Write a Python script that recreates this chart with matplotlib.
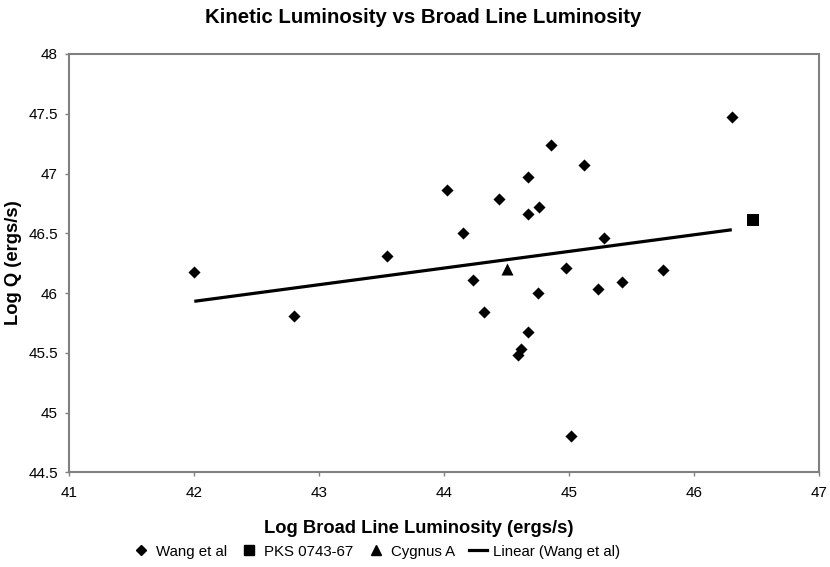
import numpy as np
import matplotlib
matplotlib.use("Agg")
import matplotlib.pyplot as plt
from matplotlib.lines import Line2D

plt.rcParams['font.family'] = ['Liberation Sans', 'DejaVu Sans']

# Data
wang_x = [42.00, 42.80, 43.54, 44.02, 44.15, 44.23, 44.32, 44.44, 44.59, 44.61,
          44.67, 44.67, 44.67, 44.75, 44.76, 44.85, 44.97, 45.01, 45.12, 45.23,
          45.28, 45.42, 45.75, 46.30]
wang_y = [46.18, 45.81, 46.31, 46.86, 46.50, 46.11, 45.84, 46.79, 45.48, 45.53,
          45.67, 46.66, 46.97, 46.00, 46.72, 47.24, 46.21, 44.80, 47.07, 46.03,
          46.46, 46.09, 46.19, 47.47]
pks_x = [46.47]
pks_y = [46.61]
cyg_x = [44.50]
cyg_y = [46.20]

xticks = [41, 42, 43, 44, 45, 46, 47]
yticks = [44.5, 45, 45.5, 46, 46.5, 47, 47.5, 48]
ytick_labels = ["44.5", "45", "45.5", "46", "46.5", "47", "47.5", "48"]

fig = plt.figure(figsize=(8.30, 5.67), dpi=100)
ax = fig.add_axes([0.0835, 0.167, 0.9036, 0.7378])

# linear trend for Wang et al
coef = np.polyfit(wang_x, wang_y, 1)
tx = np.array([min(wang_x), max(wang_x)])
ty = np.polyval(coef, tx)

ax.scatter(wang_x, wang_y, marker='D', s=38, color='black', linewidths=0, zorder=3)
ax.scatter(pks_x, pks_y, marker='s', s=70, color='black', linewidths=0, zorder=3)
ax.scatter(cyg_x, cyg_y, marker='^', s=75, color='black', linewidths=0, zorder=3)
ax.plot(tx, ty, color='black', lw=2.3, zorder=2, solid_capstyle='butt')

ax.set_xlim(41, 47)
ax.set_ylim(44.5, 48)
ax.set_xticks(xticks)
ax.set_xticklabels([str(t) for t in xticks])
ax.set_yticks(yticks)
ax.set_yticklabels(ytick_labels)

for sp in ax.spines.values():
    sp.set_color('#808080')
    sp.set_linewidth(1.5)
ax.tick_params(axis='both', colors='#808080', labelcolor='black', labelsize=11,
               length=3.2, width=1, direction='out')
ax.tick_params(axis='x', pad=7)
ax.tick_params(axis='y', pad=5)

fig.text(0.5045, 0.0594, 'Log Broad Line Luminosity (ergs/s)', fontsize=13.2,
         fontweight='bold', ha='center', va='baseline')
fig.text(0.0165, 0.537, 'Log Q (ergs/s)', fontsize=13.2, fontweight='bold',
         ha='center', va='center', rotation=90)
fig.text(0.5104, 0.960, 'Kinetic Luminosity vs Broad Line Luminosity', fontsize=14.7,
         fontweight='bold', ha='center', va='baseline')

handles = [
    Line2D([], [], marker='D', color='black', linestyle='none', markersize=5.5),
    Line2D([], [], marker='s', color='black', linestyle='none', markersize=7.5),
    Line2D([], [], marker='^', color='black', linestyle='none', markersize=7.5),
    Line2D([], [], color='black', lw=2.3),
]
labels = ['Wang et al', 'PKS 0743-67', 'Cygnus A', 'Linear (Wang et al)']
fig.legend(handles, labels, loc='center', bbox_to_anchor=(0.4525, 0.027), ncol=4,
           frameon=False, fontsize=10.8, handlelength=1.2, handletextpad=0.4,
           columnspacing=0.9)

fig.savefig('out.png', dpi=100)
